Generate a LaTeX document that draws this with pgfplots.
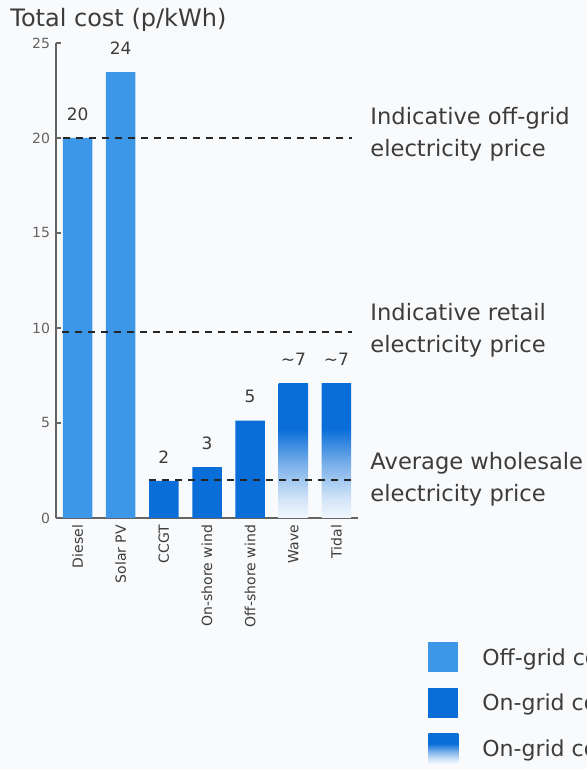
\documentclass[border=0pt]{standalone}
\usepackage{fontspec}
\setmainfont{DejaVu Sans}
\usepackage{pgfplots}
\pgfplotsset{compat=1.18}
\definecolor{offgrid}{RGB}{60,151,232}
\definecolor{ongrid}{RGB}{10,110,216}
\definecolor{bgc}{RGB}{249,250,252}
\definecolor{txt}{RGB}{60,60,60}
\definecolor{tkl}{RGB}{100,100,100}
\colorlet{fadeA}{ongrid!6!white}
\colorlet{fadeB}{ongrid!18!white}
\colorlet{fadeC}{ongrid!55!white}
\pgfdeclareverticalshading{estfade}{100bp}{color(0bp)=(fadeA); color(25bp)=(fadeA); color(32bp)=(fadeB); color(45bp)=(fadeC); color(58bp)=(ongrid); color(100bp)=(ongrid)}
\begin{document}
\begin{tikzpicture}
\useasboundingbox (0,0) rectangle (293.5pt,384.5pt);
\clip (0,0) rectangle (293.5pt,384.5pt);
\fill[bgc] (0,0) rectangle (293.5pt,384.5pt);
\node[anchor=base west, inner sep=0pt, font=\fontsize{12}{14}\selectfont, text=txt] at (5pt,371pt) {Total cost (p/kWh)};
\begin{axis}[
  at={(28pt,125.5pt)}, anchor=south west, scale only axis,
  width=151pt, height=237.5pt,
  xmin=-0.5, xmax=6.5, ymin=0, ymax=25,
  clip=false,
  axis x line*=bottom, axis y line*=left,
  axis line style={draw=tkl, line width=0.75pt, -},
  ytick={0,5,10,15,20,25},
  xtick={0,1,2,3,4,5,6},
  xticklabels={Diesel, Solar PV, CCGT, On-shore wind, Off-shore wind, Wave, Tidal},
  x tick style={draw=none},
  y tick style={draw=tkl, line width=0.6pt},
  major tick length=2.5pt, tick align=inside,
  /pgf/number format/assume math mode=true,
  yticklabel style={font=\fontsize{7}{8}\selectfont, text=tkl, xshift=0.5pt},
  xticklabel style={rotate=90, anchor=east, font=\fontsize{7}{8}\selectfont, text=txt},
  legend style={at={(1.2318,-0.261)}, anchor=north west, draw=none, fill=none,
    inner sep=0pt, row sep=7.75pt, column sep=12pt,
    font=\fontsize{11}{13}\selectfont, nodes={inner sep=0pt, text=txt}},
  legend cell align=left,
  every node near coord/.append style={anchor=center, yshift=12pt, font=\fontsize{8.5}{10}\selectfont, text=txt},
]
\addplot[ybar, bar width=14.75pt, bar shift=0pt, fill=offgrid, draw=none,
  nodes near coords, point meta=explicit symbolic,
  legend image code/.code={\fill[offgrid] (0pt,-7pt) rectangle (15pt,8pt);}]
  coordinates {(0,20.0) [20] (1,23.47) [24]};
\addlegendentry{Off-grid costs}
\addplot[ybar, bar width=14.75pt, bar shift=0pt, fill=ongrid, draw=none,
  nodes near coords, point meta=explicit symbolic,
  legend image code/.code={\fill[ongrid] (0pt,-7pt) rectangle (15pt,8pt);}]
  coordinates {(2,1.95) [2] (3,2.68) [3] (4,5.12) [5]};
\addlegendentry{On-grid costs}
\addplot[ybar, bar width=14.75pt, bar shift=0pt, draw=none, shade, shading=estfade,
  nodes near coords, point meta=explicit symbolic,
  legend image code/.code={\shade[shading=estfade] (0pt,-7pt) rectangle (15pt,8pt);}]
  coordinates {(5,7.1) [\textasciitilde 7] (6,7.1) [\textasciitilde 7]};
\addlegendentry{On-grid costs (estimated)}
\addplot[black!85, line width=1pt, dash pattern=on 3.5pt off 3pt, forget plot]
  coordinates {(-0.34,20) (6.36,20)};
\addplot[black!85, line width=1pt, dash pattern=on 3.5pt off 3pt, forget plot]
  coordinates {(-0.36,9.8) (6.36,9.8)};
\addplot[black!85, line width=1pt, dash pattern=on 3.5pt off 3pt, forget plot]
  coordinates {(1.66,2.0) (6.36,2.0)};
\node[anchor=west, align=left, inner sep=0pt, font=\fontsize{11.3}{16}\selectfont, text=txt] at (axis cs:6.78,20.2) {Indicative off-grid\\electricity price};
\node[anchor=west, align=left, inner sep=0pt, font=\fontsize{11.3}{16}\selectfont, text=txt] at (axis cs:6.78,9.9) {Indicative retail\\electricity price};
\node[anchor=west, align=left, inner sep=0pt, font=\fontsize{11.3}{16}\selectfont, text=txt] at (axis cs:6.78,2.03) {Average wholesale\\electricity price};
\end{axis}
\end{tikzpicture}
\end{document}
